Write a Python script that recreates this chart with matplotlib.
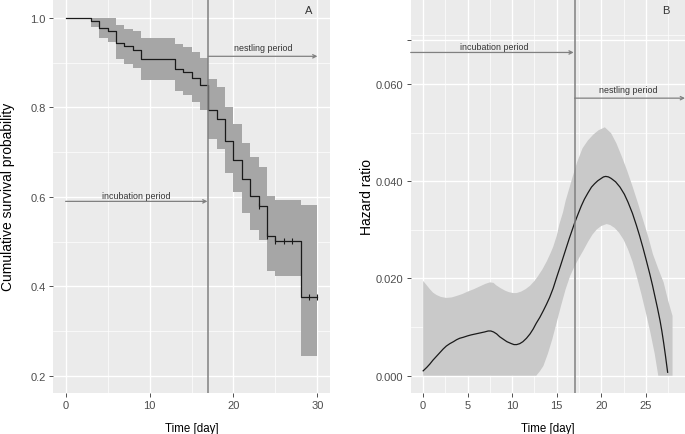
import numpy as np
import matplotlib
matplotlib.use("Agg")
import matplotlib.pyplot as plt

plt.rcParams['font.family'] = ['Liberation Sans', 'DejaVu Sans']

# panel A: Kaplan-Meier estimate (step values start at each time)
km_time = [0, 3, 4, 5, 6, 7, 8, 9, 13, 14, 15, 16, 17, 18, 19, 20, 21, 22, 23, 24, 25, 28, 30]
km_surv = [1.0, 0.993, 0.978, 0.971, 0.944, 0.937, 0.929, 0.907, 0.886, 0.880, 0.865, 0.850,
           0.794, 0.773, 0.724, 0.683, 0.640, 0.602, 0.579, 0.512, 0.502, 0.377, 0.377]
km_upper = [1.0, 1.0, 1.0, 1.0, 0.984, 0.976, 0.971, 0.956, 0.941, 0.935, 0.924, 0.911,
            0.864, 0.845, 0.800, 0.762, 0.720, 0.690, 0.667, 0.602, 0.594, 0.581, 0.581]
km_lower = [1.0, 0.980, 0.955, 0.946, 0.907, 0.897, 0.888, 0.862, 0.837, 0.828, 0.813, 0.795,
            0.730, 0.707, 0.654, 0.610, 0.564, 0.527, 0.504, 0.435, 0.424, 0.245, 0.245]
cens_time = [23, 24, 25, 26, 27, 29, 30]
cens_surv = [0.579, 0.512, 0.502, 0.502, 0.502, 0.377, 0.377]

# panel B: smoothed hazard with confidence band
hz_day = [0, 0.4, 0.75, 1.1, 1.5, 1.9, 2.25, 2.6, 3.0, 3.4, 3.75, 4.1, 4.5, 5.0, 5.4, 5.9,
          6.4, 6.9, 7.3, 7.6, 7.9, 8.25, 8.6, 9.0, 9.4, 9.9, 10.2, 10.5, 10.85, 11.2, 11.6,
          12.0, 12.35, 12.7, 13.1, 13.5, 13.85, 14.2, 14.6, 15.0, 15.4, 15.75, 16.1, 16.4,
          16.7, 17.0, 17.4, 17.75, 18.1, 18.5, 18.9, 19.25, 19.6, 20.0, 20.25, 20.5, 20.8,
          21.1, 21.6, 22.1, 22.6, 23.0, 23.5, 23.95, 24.3, 24.7, 25.1, 25.45, 25.75, 26.0,
          26.3, 26.6, 26.8, 27.0, 27.2, 27.45]
hz_val = [0.0010, 0.0017, 0.0024, 0.0032, 0.0040, 0.0048, 0.0055, 0.0061, 0.0066, 0.0070,
          0.0074, 0.0077, 0.0079, 0.0082, 0.0084, 0.0086, 0.0088, 0.0090, 0.0092, 0.0092,
          0.0090, 0.0086, 0.0080, 0.0075, 0.0070, 0.0066, 0.0064, 0.0064, 0.0066, 0.0070,
          0.0077, 0.0086, 0.0096, 0.0108, 0.0120, 0.0134, 0.0147, 0.0161, 0.0180, 0.0203,
          0.0225, 0.0245, 0.0265, 0.0282, 0.0298, 0.0314, 0.0333, 0.0349, 0.0363, 0.0376,
          0.0388, 0.0395, 0.0401, 0.0406, 0.0409, 0.0410, 0.0409, 0.0406, 0.0399, 0.0388,
          0.0373, 0.0357, 0.0334, 0.0309, 0.0288, 0.0262, 0.0234, 0.0209, 0.0186, 0.0165,
          0.0140, 0.0113, 0.0092, 0.0068, 0.0042, 0.0007]
up_day = [0, 0.4, 0.75, 1.1, 1.5, 2.0, 2.6, 3.2, 3.75, 4.4, 5.0, 5.7, 6.4, 7.0, 7.5, 7.9,
          8.2, 8.7, 9.2, 9.6, 10.1, 10.5, 11.0, 11.5, 12.0, 12.5, 12.9, 13.4, 13.9, 14.3,
          14.6, 15.0, 15.3, 15.7, 16.0, 16.4, 16.8, 17.3, 17.9, 18.5, 19.1, 19.7, 20.4,
          21.1, 21.7, 22.3, 22.9, 23.5, 24.1, 24.7, 25.3, 25.8, 26.4, 27.0, 27.5, 28.0]
up_val = [0.0195, 0.0186, 0.0178, 0.0171, 0.0166, 0.0162, 0.0160, 0.0161, 0.0164, 0.0168,
          0.0173, 0.0178, 0.0184, 0.0189, 0.0192, 0.0191, 0.0186, 0.0180, 0.0175, 0.0172,
          0.0170, 0.0170, 0.0173, 0.0178, 0.0185, 0.0195, 0.0205, 0.0219, 0.0236, 0.0252,
          0.0265, 0.0288, 0.0312, 0.0336, 0.0360, 0.0385, 0.0410, 0.0440, 0.0468, 0.0484,
          0.0496, 0.0505, 0.0511, 0.0499, 0.0478, 0.0451, 0.0422, 0.0390, 0.0356, 0.0320,
          0.0284, 0.0250, 0.0220, 0.0192, 0.0155, 0.0123]
lo_day = [0, 12.7, 13.1, 13.5, 14.0, 14.5, 15.0, 15.5, 16.0, 16.5, 17.0, 17.5, 18.0, 18.5,
          19.0, 19.5, 20.0, 20.6, 21.0, 21.5, 22.0, 22.5, 23.0, 23.5, 24.0, 24.5, 25.0, 25.5,
          26.0, 26.4, 28.0]
lo_val = [0, 0, 0.0009, 0.0020, 0.0045, 0.0075, 0.0110, 0.0145, 0.0178, 0.0205, 0.0225,
          0.0242, 0.0258, 0.0275, 0.0290, 0.0301, 0.0308, 0.0312, 0.0310, 0.0304, 0.0294,
          0.0280, 0.0260, 0.0235, 0.0203, 0.0168, 0.0130, 0.0090, 0.0045, 0, 0]

hatch_day = 17
GRAY_LINE = '#808080'


def gg_axes(ax):
    ax.set_facecolor('#EBEBEB')
    for s in ax.spines.values():
        s.set_visible(False)
    ax.grid(True, which='major', color='white', linewidth=1.0)
    ax.grid(True, which='minor', color='white', linewidth=0.5)
    ax.set_axisbelow(True)
    ax.tick_params(which='major', length=2.75, width=0.6, color='#333333',
                   labelsize=8, labelcolor='#4D4D4D', pad=2.5)
    ax.tick_params(which='minor', length=0)


def arrow(ax, x0, x1, y):
    ax.annotate('', xy=(x1, y), xytext=(x0, y),
                arrowprops=dict(arrowstyle='->', color=GRAY_LINE, lw=0.9,
                                mutation_scale=6, shrinkA=0, shrinkB=0))


fig = plt.figure(figsize=(6.85, 4.35), dpi=100)
axA = fig.add_axes([53 / 685, 1 - 394 / 435, 277 / 685, 394 / 435])
axB = fig.add_axes([410.7 / 685, 1 - 394 / 435, 274.3 / 685, 394 / 435])

# ---- panel A
gg_axes(axA)
axA.fill_between(km_time, km_lower, km_upper, step='post', color='#A6A6A6', linewidth=0)
axA.step(km_time, km_surv, where='post', color='#1A1A1A', linewidth=0.9)
axA.plot(cens_time, cens_surv, linestyle='none', marker='|', markersize=4,
         color='#1A1A1A', markeredgewidth=0.8)
axA.axvline(hatch_day, color=GRAY_LINE, linewidth=1.1)
arrow(axA, 0, hatch_day - 0.1, 0.590)
arrow(axA, hatch_day, 30, 0.914)
axA.text(8.4, 0.603, 'incubation period', ha='center', va='center', fontsize=6.4, color='#333333')
axA.text(23.5, 0.934, 'nestling period', ha='center', va='center', fontsize=6.4, color='#333333')
axA.text(29, 1.018, 'A', ha='center', va='center', fontsize=8, color='#333333')
axA.set_xlim(-1.5, 31.5)
axA.set_ylim(0.162, 1.042)
axA.set_xticks([0, 10, 20, 30])
axA.set_xticks([5, 15, 25], minor=True)
axA.set_yticks([0.2, 0.4, 0.6, 0.8, 1.0])
axA.set_yticklabels(['0.2', '0.4', '0.6', '0.8', '1.0'])
axA.set_yticks([0.3, 0.5, 0.7, 0.9], minor=True)
axA.set_xlabel('Time [day]', fontsize=8.3)
axA.set_ylabel('Cumulative survival probability', fontsize=10, va='center')
axA.xaxis.set_label_coords(0.5, -0.074)
axA.yaxis.set_label_coords((8 - 53) / 277, 0.5)

# ---- panel B
gg_axes(axB)
band_x = np.concatenate([up_day, lo_day[::-1]])
band_y = np.concatenate([up_val, lo_val[::-1]])
axB.fill(band_x, band_y, color='#C9C9C9', linewidth=0)
axB.plot(hz_day, hz_val, color='#1A1A1A', linewidth=0.9)
axB.axvline(hatch_day, color=GRAY_LINE, linewidth=1.1)
arrow(axB, -1.4, hatch_day - 0.1, 0.0665)
arrow(axB, hatch_day, 29.4, 0.0571)
axB.text(8.0, 0.0678, 'incubation period', ha='center', va='center', fontsize=6.4, color='#333333')
axB.text(23.0, 0.0588, 'nestling period', ha='center', va='center', fontsize=6.4, color='#333333')
axB.text(27.2, 0.0752, 'B', ha='center', va='center', fontsize=8, color='#333333')
axB.set_xlim(-1.4, 29.4)
axB.set_ylim(-0.00356, 0.0775)
axB.set_xticks([0, 5, 10, 15, 20, 25])
axB.set_xticks([2.5, 7.5, 12.5, 17.5, 22.5, 27.5], minor=True)
axB.set_yticks([0.0, 0.02, 0.04, 0.06, 0.069])
axB.set_yticklabels(['0.000', '0.020', '0.040', '0.060', ''])
axB.set_yticks([0.01, 0.03, 0.05, 0.07], minor=True)
axB.set_xlabel('Time [day]', fontsize=8.3)
axB.set_ylabel('Hazard ratio', fontsize=10, va='center')
axB.xaxis.set_label_coords(0.5, -0.074)
axB.yaxis.set_label_coords((367 - 410.7) / 274.3, 0.5)

fig.savefig('out.png', dpi=100)
